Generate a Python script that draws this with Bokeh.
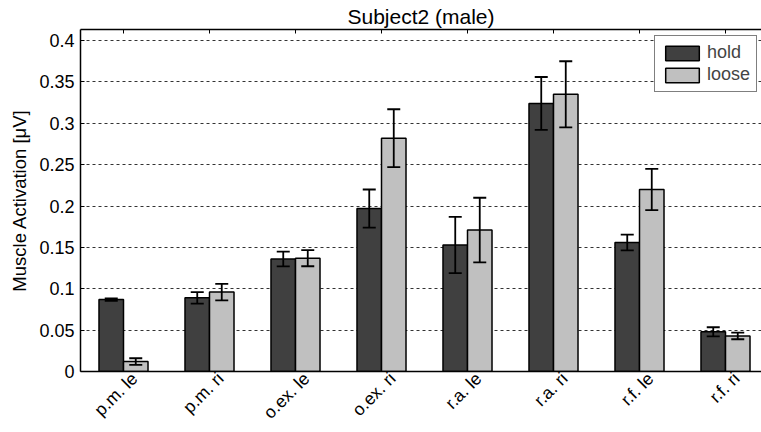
from bokeh.plotting import figure
from bokeh.models import (ColumnDataSource, FixedTicker, LinearAxis, Range1d,
                          Whisker, TeeHead, Legend, LegendItem)
from bokeh.transform import dodge
from bokeh.embed import file_html
from bokeh.resources import INLINE

# ---- data ----
categories = ["p.m. le", "p.m. ri", "o.ex. le", "o.ex. ri",
              "r.a. le", "r.a. ri", "r.f. le", "r.f. ri"]
hold = [0.087, 0.089, 0.136, 0.197, 0.153, 0.324, 0.156, 0.048]
hold_err = [0.0015, 0.007, 0.009, 0.023, 0.034, 0.032, 0.0095, 0.0055]
loose = [0.012, 0.096, 0.137, 0.282, 0.171, 0.335, 0.220, 0.043]
loose_err = [0.004, 0.010, 0.0098, 0.035, 0.039, 0.040, 0.025, 0.004]
y_ticks = [0, 0.05, 0.1, 0.15, 0.2, 0.25, 0.3, 0.35, 0.4]
y_tick_labels = ["0", "0.05", "0.1", "0.15", "0.2", "0.25", "0.3", "0.35", "0.4"]
title_text = "Subject2 (male)"
y_label = "Muscle Activation [\u03bcV]"

FONT = "Liberation Sans"
HOLD_C = "#404040"
LOOSE_C = "#c0c0c0"

xpos = list(range(1, len(categories) + 1))
src = ColumnDataSource(dict(
    x=xpos, hold=hold, loose=loose,
    hold_lo=[h - e for h, e in zip(hold, hold_err)],
    hold_hi=[h + e for h, e in zip(hold, hold_err)],
    loose_lo=[v - e for v, e in zip(loose, loose_err)],
    loose_hi=[v + e for v, e in zip(loose, loose_err)],
))

W, H = 761, 432
LB = 80
x0 = 0.5
x1 = 0.5 + (W - LB) / 86.0
p = figure(width=W, height=H, output_backend="svg", toolbar_location=None,
           x_range=Range1d(x0, x1), y_range=Range1d(0, 0.4134),
           min_border_left=LB, min_border_right=0, min_border_top=29,
           min_border_bottom=60, x_axis_location=None, y_axis_location=None)
p.outline_line_color = None
p.background_fill_color = "white"
p.border_fill_color = "white"

bw = 0.285
off = 0.1425
r_hold = p.vbar(x=dodge("x", -off, range=p.x_range), top="hold", width=bw, source=src,
                fill_color=HOLD_C, line_color="black", line_width=1.5)
r_loose = p.vbar(x=dodge("x", off, range=p.x_range), top="loose", width=bw, source=src,
                 fill_color=LOOSE_C, line_color="black", line_width=1.5)

for dx, lo, hi in [(-off, "hold_lo", "hold_hi"), (off, "loose_lo", "loose_hi")]:
    w = Whisker(base=dodge("x", dx, range=p.x_range), lower=lo, upper=hi, source=src,
                level="annotation", line_color="black", line_width=1.8,
                upper_head=TeeHead(size=13, line_color="black", line_width=1.8),
                lower_head=TeeHead(size=13, line_color="black", line_width=1.8))
    p.add_layout(w)

# grid
p.ygrid.ticker = FixedTicker(ticks=y_ticks)
p.ygrid.grid_line_color = "#333333"
p.ygrid.grid_line_dash = "3 3"
p.ygrid.grid_line_width = 1
p.xgrid.grid_line_color = None

# left axis
yax = LinearAxis(ticker=FixedTicker(ticks=y_ticks),
                 major_label_overrides={t: l for t, l in zip(y_ticks, y_tick_labels)})
yax.axis_line_color = "black"
yax.axis_line_width = 1.5
yax.major_tick_in = 4
yax.major_tick_out = 0
yax.minor_tick_in = 0
yax.minor_tick_out = 0
yax.minor_tick_line_color = None
yax.major_label_text_font = FONT
yax.major_label_text_font_size = "18px"
yax.major_label_text_color = "black"
yax.major_label_standoff = 6
yax.axis_label = y_label
yax.axis_label_text_font = FONT
yax.axis_label_text_font_size = "18.5px"
yax.axis_label_text_font_style = "normal"
yax.axis_label_text_color = "black"
yax.axis_label_standoff = 6
p.add_layout(yax, "left")

# top axis (carries title)
tax = LinearAxis(ticker=FixedTicker(ticks=xpos))
tax.axis_line_color = "black"
tax.axis_line_width = 1.5
tax.major_tick_in = 4
tax.major_tick_out = 0
tax.minor_tick_in = 0
tax.minor_tick_out = 0
tax.minor_tick_line_color = None
tax.major_label_text_font_size = "0px"
tax.major_label_standoff = 0
tax.axis_label = title_text
tax.axis_label_text_font = FONT
tax.axis_label_text_font_size = "21px"
tax.axis_label_text_font_style = "normal"
tax.axis_label_text_color = "black"
tax.axis_label_standoff = 2
p.add_layout(tax, "above")

# bottom axis: line + labels shifted slightly right like the reference
shift = 11 / 86.0
p.extra_x_ranges = {"lab": Range1d(x0 - shift, x1 - shift)}
lax = LinearAxis(x_range_name="lab", ticker=FixedTicker(ticks=xpos),
                 major_label_overrides={i: c for i, c in zip(xpos, categories)})
lax.axis_line_color = "black"
lax.axis_line_width = 1.5
lax.major_tick_in = 0
lax.major_tick_out = 0
lax.minor_tick_in = 0
lax.minor_tick_out = 0
lax.major_tick_line_color = None
lax.minor_tick_line_color = None
lax.major_label_orientation = 0.785398
lax.major_label_text_font = FONT
lax.major_label_text_font_size = "17.5px"
lax.major_label_text_color = "black"
lax.major_label_standoff = 4
p.add_layout(lax, "below")

legend = Legend(items=[LegendItem(label="hold", renderers=[r_hold]),
                       LegendItem(label="loose", renderers=[r_loose])],
                location=(574, 279))
legend.margin = 0
legend.padding = 6
legend.spacing = 1
legend.glyph_width = 42
legend.glyph_height = 18
legend.label_standoff = 4
legend.label_text_font = FONT
legend.label_text_font_size = "18px"
legend.border_line_color = "black"
legend.border_line_width = 1
legend.background_fill_alpha = 1
p.add_layout(legend)

open("out.html", "w").write(file_html(p, INLINE))
